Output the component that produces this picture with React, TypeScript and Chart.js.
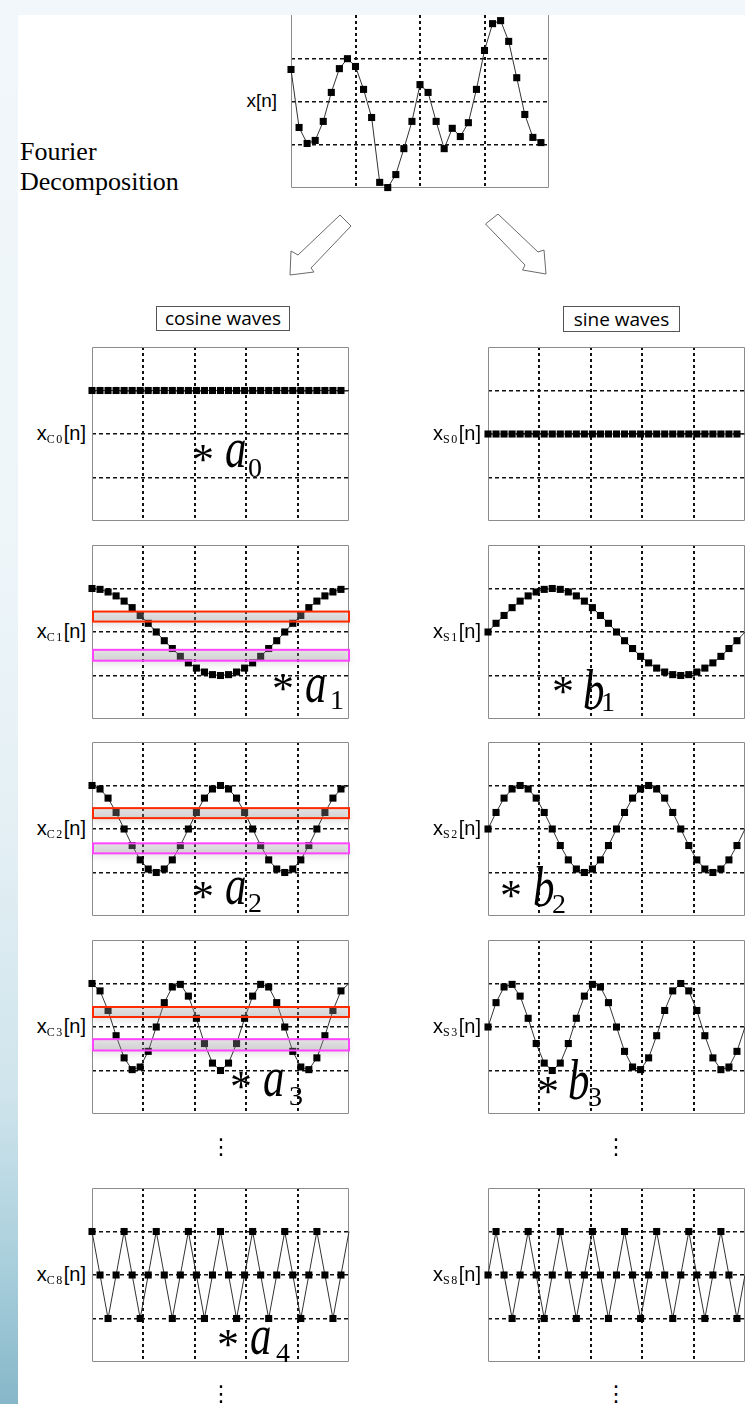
import React, { useEffect, useRef } from 'react';
import { Chart, registerables } from 'chart.js';

Chart.register(...registerables);

// ---------------- data ----------------
const xSignal = [0.74, -0.6, -0.97, -0.9, -0.46, 0.21, 0.76, 0.99, 0.81, 0.28, -0.37, -1.87, -1.99, -1.69, -1.09, -0.46, 0.39, 0.21, -0.46, -1.09, -0.62, -0.81, -0.49, 0.28, 1.18, 1.8, 1.87, 1.39, 0.55, -0.3, -0.83, -0.95];

const cosWave0 = [1, 1, 1, 1, 1, 1, 1, 1, 1, 1, 1, 1, 1, 1, 1, 1, 1, 1, 1, 1, 1, 1, 1, 1, 1, 1, 1, 1, 1, 1, 1, 1, 1];
const cosWave1 = [1, 0.98, 0.92, 0.83, 0.71, 0.56, 0.38, 0.2, 0, -0.2, -0.38, -0.56, -0.71, -0.83, -0.92, -0.98, -1, -0.98, -0.92, -0.83, -0.71, -0.56, -0.38, -0.2, 0, 0.2, 0.38, 0.56, 0.71, 0.83, 0.92, 0.98, 1];
const cosWave2 = [1, 0.92, 0.71, 0.38, 0, -0.38, -0.71, -0.92, -1, -0.92, -0.71, -0.38, 0, 0.38, 0.71, 0.92, 1, 0.92, 0.71, 0.38, 0, -0.38, -0.71, -0.92, -1, -0.92, -0.71, -0.38, 0, 0.38, 0.71, 0.92, 1];
const cosWave3 = [1, 0.83, 0.38, -0.2, -0.71, -0.98, -0.92, -0.56, 0, 0.56, 0.92, 0.98, 0.71, 0.2, -0.38, -0.83, -1, -0.83, -0.38, 0.2, 0.71, 0.98, 0.92, 0.56, 0, -0.56, -0.92, -0.98, -0.71, -0.2, 0.38, 0.83, 1];
const cosWave8 = [1, 0, -1, 0, 1, 0, -1, 0, 1, 0, -1, 0, 1, 0, -1, 0, 1, 0, -1, 0, 1, 0, -1, 0, 1, 0, -1, 0, 1, 0, -1, 0, 1];

const sinWave0 = [0, 0, 0, 0, 0, 0, 0, 0, 0, 0, 0, 0, 0, 0, 0, 0, 0, 0, 0, 0, 0, 0, 0, 0, 0, 0, 0, 0, 0, 0, 0, 0, 0];
const sinWave1 = [0, 0.2, 0.38, 0.56, 0.71, 0.83, 0.92, 0.98, 1, 0.98, 0.92, 0.83, 0.71, 0.56, 0.38, 0.2, 0, -0.2, -0.38, -0.56, -0.71, -0.83, -0.92, -0.98, -1, -0.98, -0.92, -0.83, -0.71, -0.56, -0.38, -0.2, 0];
const sinWave2 = [0, 0.38, 0.71, 0.92, 1, 0.92, 0.71, 0.38, 0, -0.38, -0.71, -0.92, -1, -0.92, -0.71, -0.38, 0, 0.38, 0.71, 0.92, 1, 0.92, 0.71, 0.38, 0, -0.38, -0.71, -0.92, -1, -0.92, -0.71, -0.38, 0];
const sinWave3 = [0, 0.56, 0.92, 0.98, 0.71, 0.2, -0.38, -0.83, -1, -0.83, -0.38, 0.2, 0.71, 0.98, 0.92, 0.56, 0, -0.56, -0.92, -0.98, -0.71, -0.2, 0.38, 0.83, 1, 0.83, 0.38, -0.2, -0.71, -0.98, -0.92, -0.56, 0];
const sinWave8 = [0, 1, 0, -1, 0, 1, 0, -1, 0, 1, 0, -1, 0, 1, 0, -1, 0, 1, 0, -1, 0, 1, 0, -1, 0, 1, 0, -1, 0, 1, 0, -1, 0];

const cosSeries = [cosWave0, cosWave1, cosWave2, cosWave3, cosWave8];
const sinSeries = [sinWave0, sinWave1, sinWave2, sinWave3, sinWave8];

const cosSubs = ['C0', 'C1', 'C2', 'C3', 'C8'];
const sinSubs = ['S0', 'S1', 'S2', 'S3', 'S8'];
const cosCoefSubs = ['0', '1', '2', '3', '4'];
const sinCoefSubs = ['', '1', '2', '3', ''];

const topGridX = [8, 16, 24];
const smallGridX = [6.4, 12.8, 19.2, 25.6];
const gridY = [-1, 0, 1];

// highlight bands (value ranges) for cosine rows 1..3
const redBands = [[0.24, 0.47], [0.25, 0.48], [0.23, 0.46]];
const magentaBands = [[-0.66, -0.41], [-0.56, -0.33], [-0.54, -0.28]];

// ---------------- layout ----------------
const PAD = 6;
const ROW_TOPS = [347, 545, 742, 940, 1188];
const PLOT_H = 174;
const PLOT_W = 257;
const COS_LEFT = 92;
const SIN_LEFT = 488;

const SERIF = '"Liberation Serif", "Times New Roman", serif';
const SANS = '"Liberation Sans", Arial, Helvetica, sans-serif';
const BOXFONT = '"Open Sans", "Noto Sans", sans-serif';

type Band = { lo: number; hi: number; color: string };

function WaveChart(props: {
  left: number; top: number; width: number; height: number;
  values: number[]; xMax: number; xGrid: number[]; bands?: Band[];
  frameTop?: boolean; pointCount: number;
}) {
  const ref = useRef<HTMLCanvasElement | null>(null);
  useEffect(() => {
    const { values, xMax, xGrid, bands = [], frameTop = true, pointCount } = props;
    const points = values.map((y, i) => ({ x: i, y }));
    const framePlugin = {
      id: 'frame',
      beforeDatasetsDraw(chart: any) {
        const { ctx, chartArea: a } = chart;
        ctx.save();
        ctx.strokeStyle = '#8c8c8c';
        ctx.lineWidth = 1;
        const l = Math.round(a.left) + 0.5;
        const r = Math.round(a.right) - 0.5;
        const t = Math.round(a.top) + 0.5;
        const b = Math.round(a.bottom) - 0.5;
        ctx.beginPath();
        if (frameTop) {
          ctx.moveTo(l, t);
          ctx.lineTo(r, t);
        }
        ctx.moveTo(l, frameTop ? t : a.top);
        ctx.lineTo(l, b);
        ctx.lineTo(r, b);
        ctx.lineTo(r, frameTop ? t : a.top);
        ctx.stroke();
        ctx.restore();
      },
    };
    const bandPlugin = {
      id: 'bands',
      afterDatasetsDraw(chart: any) {
        const { ctx, chartArea: a, scales } = chart;
        bands.forEach((bd) => {
          const y1 = scales.y.getPixelForValue(bd.hi);
          const y2 = scales.y.getPixelForValue(bd.lo);
          ctx.save();
          ctx.shadowColor = 'rgba(0,0,0,0.35)';
          ctx.shadowBlur = 7;
          ctx.shadowOffsetY = 4;
          ctx.fillStyle = 'rgba(170,170,170,0.3)';
          ctx.fillRect(a.left, y1, a.right - a.left, y2 - y1);
          ctx.restore();
          ctx.save();
          ctx.strokeStyle = bd.color;
          ctx.lineWidth = 2;
          ctx.strokeRect(a.left + 1, y1, a.right - a.left - 1, y2 - y1);
          ctx.restore();
        });
      },
    };
    const chart = new Chart(ref.current as HTMLCanvasElement, {
      type: 'line',
      data: {
        datasets: [
          {
            data: points,
            borderColor: '#333',
            borderWidth: 1,
            pointStyle: 'rect',
            pointRadius: (c: any) => (c.dataIndex < pointCount ? 5 : 0),
            pointBackgroundColor: '#000',
            pointBorderWidth: 0,
            clip: false,
            tension: 0,
          } as any,
        ],
      },
      options: {
        responsive: false,
        animation: false,
        devicePixelRatio: 1,
        events: [],
        layout: { padding: PAD },
        plugins: { legend: { display: false }, tooltip: { enabled: false } },
        scales: {
          x: {
            type: 'linear',
            min: 0,
            max: xMax,
            afterBuildTicks: (s: any) => {
              s.ticks = xGrid.map((v) => ({ value: v }));
            },
            ticks: { display: false },
            grid: { color: '#111', lineWidth: 2, drawTicks: false },
            border: { display: false, dash: [3, 3] },
          },
          y: {
            type: 'linear',
            min: -2,
            max: 2,
            afterBuildTicks: (s: any) => {
              s.ticks = gridY.map((v) => ({ value: v }));
            },
            ticks: { display: false },
            grid: { color: '#111', lineWidth: 1.5, drawTicks: false },
            border: { display: false, dash: [4, 3] },
          },
        },
      } as any,
      plugins: [framePlugin, bandPlugin],
    });
    return () => chart.destroy();
  }, []);
  const w = props.width + 2 * PAD;
  const h = props.height + 2 * PAD;
  return (
    <canvas
      ref={ref}
      width={w}
      height={h}
      style={{ position: 'absolute', left: props.left - PAD, top: props.top - PAD, width: w, height: h }}
    />
  );
}

function Txt(props: { x: number; base: number; size: number; family: string; italic?: boolean; sx?: number; children: any }) {
  const asc = props.family === SERIF ? 0.8375 : 0.8465;
  return (
    <div
      style={{
        position: 'absolute',
        left: props.x,
        top: props.base - asc * props.size,
        fontSize: props.size,
        lineHeight: 1,
        fontFamily: props.family,
        fontStyle: props.italic ? 'italic' : 'normal',
        whiteSpace: 'nowrap',
        color: '#000',
        transform: props.sx ? `scaleX(${props.sx})` : undefined,
        transformOrigin: 'left center',
      }}
    >
      {props.children}
    </div>
  );
}

function SigLabel(props: { right: number; mid: number; sub?: string; size: number }) {
  return (
    <div
      style={{
        position: 'absolute',
        left: 0,
        width: props.right,
        top: props.mid - 13,
        lineHeight: '24px',
        textAlign: 'right',
        fontFamily: SANS,
        fontSize: props.size,
        whiteSpace: 'nowrap',
        color: '#000',
      }}
    >
      x
      {props.sub ? (
        <span style={{ fontFamily: SERIF, fontSize: 12, letterSpacing: 1.5, position: 'relative', top: 3 }}>{props.sub}</span>
      ) : null}
      [n]
    </div>
  );
}

// coefficient annotation positions: star glyph left / center-y, letter left / baseline, sub left / baseline
const coefLayout = [
  { col: 'c', row: 0, star: [195, 453], let: [227, 468], sub: [249, 477] },
  { col: 'c', row: 1, star: [275, 682], let: [307, 703], sub: [331, 709] },
  { col: 's', row: 1, star: [555, 685], let: [585, 710], sub: [602, 711] },
  { col: 'c', row: 2, star: [195, 890], let: [227, 905], sub: [249, 912] },
  { col: 's', row: 2, star: [503, 889], let: [535, 907], sub: [553, 913] },
  { col: 'c', row: 3, star: [233, 1080], let: [265, 1097], sub: [290, 1105] },
  { col: 's', row: 3, star: [540, 1085], let: [570, 1100], sub: [589, 1106] },
  { col: 'c', row: 4, star: [220, 1338], let: [252, 1355], sub: [277, 1362] },
];

export default function App() {
  const STAR = 44;
  const LET = 58;
  const SUB = 28;
  return (
    <div style={{ position: 'absolute', left: 0, top: 0, width: 745, height: 1404, overflow: 'hidden', background: '#fff' }}>
      {/* top signal */}
      <WaveChart left={291} top={15} width={258} height={173} values={xSignal} xMax={32} xGrid={topGridX} frameTop={false} pointCount={32} />
      <SigLabel right={277} mid={102} size={19} />
      <Txt x={20} base={161} size={26} family={SERIF}>Fourier</Txt>
      <Txt x={20} base={191} size={26} family={SERIF}>Decomposition</Txt>

      {/* arrows */}
      <svg width={745} height={300} style={{ position: 'absolute', left: 0, top: 0 }}>
        <polygon points="340,215 298,255 291,251 290,275 314,272 311,268 351,226" fill="#fff" stroke="#6a6a6a" strokeWidth={1} />
        <polygon points="498,214 538,252 544,250 546,274 522.6,270 525,265 485.5,224" fill="#fff" stroke="#6a6a6a" strokeWidth={1} />
      </svg>

      {/* headers */}
      <div style={{ position: 'absolute', left: 156, top: 306, width: 132, height: 23, border: '1px solid #555', fontFamily: BOXFONT, fontSize: 19, lineHeight: '23px', textAlign: 'center', whiteSpace: 'nowrap' }}>cosine waves</div>
      <div style={{ position: 'absolute', left: 563, top: 306, width: 115, height: 24, border: '1px solid #555', fontFamily: BOXFONT, fontSize: 19, lineHeight: '24px', textAlign: 'center', whiteSpace: 'nowrap' }}>sine waves</div>

      {/* wave rows */}
      {ROW_TOPS.map((top, r) => (
        <React.Fragment key={r}>
          <WaveChart
            left={COS_LEFT}
            top={top}
            width={PLOT_W}
            height={PLOT_H}
            values={cosSeries[r]}
            xMax={32}
            xGrid={smallGridX}
            pointCount={32}
            bands={
              r >= 1 && r <= 3
                ? [
                    { lo: redBands[r - 1][0], hi: redBands[r - 1][1], color: '#ff2a00' },
                    { lo: magentaBands[r - 1][0], hi: magentaBands[r - 1][1], color: '#ff44ff' },
                  ]
                : []
            }
          />
          <WaveChart left={SIN_LEFT} top={top} width={PLOT_W} height={PLOT_H} values={sinSeries[r]} xMax={32} xGrid={smallGridX} pointCount={32} />
          <SigLabel right={86} mid={top + PLOT_H / 2} sub={cosSubs[r]} size={20} />
          <SigLabel right={481} mid={top + PLOT_H / 2} sub={sinSubs[r]} size={20} />
        </React.Fragment>
      ))}

      {/* coefficient annotations */}
      {coefLayout.map((c, i) => {
        const letter = c.col === 'c' ? 'a' : 'b';
        const sub = c.col === 'c' ? cosCoefSubs[c.row] : sinCoefSubs[c.row];
        return (
          <React.Fragment key={i}>
            <Txt x={c.star[0] - 3} base={c.star[1] + 22} size={STAR} family={SERIF}>*</Txt>
            <Txt x={c.let[0] - 2} base={c.let[1]} size={LET} family={SERIF} italic sx={0.74}>{letter}</Txt>
            <Txt x={c.sub[0] - 1} base={c.sub[1]} size={SUB} family={SERIF}>{sub}</Txt>
          </React.Fragment>
        );
      })}

      {/* vertical ellipses */}
      {[[221, 1157], [616, 1157], [221, 1404], [616, 1404]].map((p, i) => (
        <div key={i} style={{ position: 'absolute', left: p[0] - 12, width: 24, top: p[1] - 23, height: 26, textAlign: 'center', fontFamily: '"DejaVu Sans", sans-serif', fontSize: 22, lineHeight: '26px' }}>⋮</div>
      ))}

      {/* background strips */}
      <div style={{ position: 'absolute', left: 0, top: 0, width: 745, height: 15, background: '#f1f7fa' }} />
      <div style={{ position: 'absolute', left: 0, top: 0, width: 18, height: 1404, background: 'linear-gradient(to bottom, #f1f7fa 0%, #edf5f9 40%, #e3eff4 60%, #cfe4ec 78%, #a9cfdc 90%, #86b7c8 100%)' }} />
    </div>
  );
}
